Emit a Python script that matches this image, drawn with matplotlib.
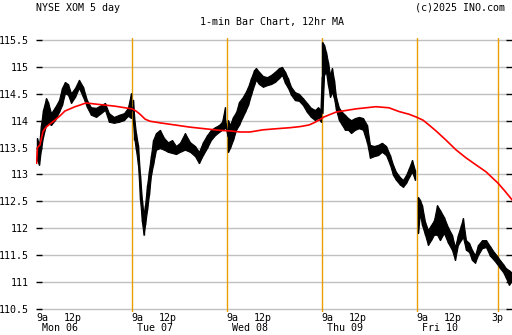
import numpy as np
import matplotlib.pyplot as plt

# 5 trading days, clock hours of the samples, bar highs and lows
days = ['Mon 06', 'Tue 07', 'Wed 08', 'Thu 09', 'Fri 10']

mon_t = [9.48, 9.62, 9.75, 9.89, 10.10, 10.23, 10.44, 10.71, 10.98, 11.19, 11.39, 11.60, 11.81, 12.08,
         12.35, 12.63, 12.90, 13.17, 13.52, 13.86, 14.13, 14.40, 14.74, 15.09, 15.43, 15.70, 15.91]
mon_hi = [113.68, 113.55, 113.92, 114.20, 114.42, 114.35, 114.14, 114.25, 114.38, 114.61, 114.72, 114.68, 114.51, 114.61,
          114.76, 114.63, 114.38, 114.25, 114.24, 114.29, 114.33, 114.14, 114.07, 114.11, 114.14, 114.24, 114.51]
mon_lo = [113.27, 113.18, 113.46, 113.70, 113.92, 113.96, 113.92, 114.01, 114.16, 114.29, 114.51, 114.48, 114.33, 114.44,
          114.61, 114.44, 114.25, 114.11, 114.07, 114.14, 114.20, 113.98, 113.96, 113.98, 114.01, 114.09, 114.05]

tue_t = [9.55, 9.65, 9.75, 9.89, 10.03, 10.16, 10.27, 10.37, 10.51, 10.64, 10.78, 10.92, 11.12, 11.39, 11.67,
         11.94, 12.22, 12.49, 12.76, 13.10, 13.45, 13.79, 14.06, 14.33, 14.61, 14.88, 15.16, 15.43, 15.64, 15.84]
tue_hi = [114.39, 114.01, 113.77, 113.55, 112.99, 112.53, 112.25, 112.43, 112.80, 113.08, 113.36, 113.64, 113.77, 113.83, 113.68,
          113.60, 113.64, 113.53, 113.59, 113.77, 113.60, 113.53, 113.42, 113.60, 113.73, 113.83, 113.88, 113.92, 113.98, 114.25]
tue_lo = [113.98, 113.64, 113.46, 113.18, 112.53, 112.12, 111.88, 112.06, 112.34, 112.62, 112.99, 113.18, 113.46, 113.49, 113.46,
          113.42, 113.40, 113.38, 113.42, 113.46, 113.42, 113.34, 113.21, 113.36, 113.49, 113.64, 113.73, 113.79, 113.83, 113.86]

wed_t = [9.55, 9.68, 9.89, 10.10, 10.30, 10.51, 10.71, 10.92, 11.12, 11.33, 11.46, 11.67, 11.94, 12.22, 12.49,
         12.76, 13.04, 13.24, 13.45, 13.65, 13.86, 14.13, 14.40, 14.67, 14.95, 15.22, 15.50, 15.70, 15.91]
wed_hi = [114.01, 113.92, 114.07, 114.16, 114.35, 114.42, 114.51, 114.63, 114.79, 114.94, 114.98, 114.91, 114.83, 114.81, 114.85,
          114.91, 114.98, 115.00, 114.91, 114.79, 114.63, 114.53, 114.50, 114.42, 114.33, 114.24, 114.20, 114.25, 114.20]
wed_lo = [113.42, 113.49, 113.64, 113.83, 113.92, 114.05, 114.16, 114.29, 114.48, 114.66, 114.76, 114.68, 114.63, 114.66, 114.68,
          114.72, 114.79, 114.85, 114.70, 114.61, 114.48, 114.38, 114.37, 114.29, 114.16, 114.07, 114.01, 114.05, 113.98]

thu_t = [9.51, 9.62, 9.75, 9.89, 10.03, 10.16, 10.30, 10.44, 10.64, 10.85, 11.05, 11.26, 11.47, 11.74, 12.01, 12.28,
         12.56, 12.76, 13.04, 13.31, 13.58, 13.86, 14.13, 14.34, 14.54, 14.82, 15.02, 15.23, 15.43, 15.64, 15.84]
thu_hi = [115.46, 115.41, 115.28, 115.09, 114.85, 114.98, 114.76, 114.44, 114.24, 114.16, 114.11, 114.05, 114.01, 114.05, 114.07, 114.05,
          113.92, 113.55, 113.53, 113.55, 113.59, 113.53, 113.36, 113.18, 113.05, 112.95, 112.90, 112.99, 113.12, 113.27, 113.08]
thu_lo = [114.14, 114.85, 114.91, 114.66, 114.44, 114.53, 114.42, 114.20, 114.01, 113.92, 113.83, 113.83, 113.77, 113.83, 113.86, 113.83,
          113.59, 113.31, 113.34, 113.36, 113.42, 113.36, 113.18, 112.99, 112.90, 112.81, 112.77, 112.84, 112.95, 113.05, 112.90]

fri_t = [9.55, 9.68, 9.82, 10.03, 10.23, 10.44, 10.64, 10.85, 11.05, 11.32, 11.60, 11.87, 12.08, 12.28, 12.49, 12.62,
         12.83, 13.04, 13.24, 13.45, 13.65, 13.93, 14.20, 14.47, 14.74, 14.95, 15.15, 15.36, 15.56, 15.77, 15.91]
fri_hi = [112.58, 112.53, 112.43, 112.12, 111.97, 112.06, 112.15, 112.43, 112.34, 112.21, 112.02, 111.88, 111.65, 111.88, 112.06, 112.19,
          111.78, 111.73, 111.60, 111.50, 111.69, 111.78, 111.78, 111.67, 111.56, 111.49, 111.41, 111.34, 111.26, 111.22, 111.19]
fri_lo = [111.91, 112.28, 112.06, 111.88, 111.69, 111.78, 111.88, 111.88, 111.78, 111.91, 111.73, 111.60, 111.41, 111.69, 111.78, 111.84,
          111.60, 111.56, 111.41, 111.36, 111.50, 111.63, 111.65, 111.49, 111.41, 111.34, 111.26, 111.19, 111.08, 110.95, 111.00]

# 12hr moving average, per day
ma_t = [[9.45, 9.51, 9.68, 9.89, 10.10, 10.37, 10.71, 11.05, 11.39, 11.74, 12.08, 12.42, 12.83, 13.45, 14.13, 14.81, 15.50, 15.98],
        [9.75, 10.03, 10.37, 10.71, 11.39, 12.42, 13.45, 14.13, 14.81, 15.50],
        [9.68, 10.37, 11.05, 11.94, 12.83, 13.79, 14.47, 15.09, 15.50, 15.77],
        [9.62, 10.44, 11.12, 11.81, 13.17, 14.06, 14.75, 15.43, 15.91],
        [9.89, 10.30, 10.78, 11.46, 12.14, 12.83, 13.51, 14.20, 15.02, 15.50, 15.98]]
ma_v = [[113.21, 113.50, 113.55, 113.80, 113.88, 113.94, 114.01, 114.09, 114.18, 114.22, 114.26, 114.29, 114.33, 114.31,
         114.29, 114.27, 114.24, 114.22],
        [114.18, 114.12, 114.03, 113.99, 113.96, 113.92, 113.88, 113.86, 113.84, 113.82],
        [113.81, 113.79, 113.79, 113.83, 113.85, 113.87, 113.89, 113.92, 113.97, 114.01],
        [114.07, 114.16, 114.19, 114.22, 114.26, 114.24, 114.17, 114.12, 114.07],
        [114.01, 113.92, 113.81, 113.64, 113.46, 113.31, 113.18, 113.05, 112.84, 112.69, 112.53]]

yticks = [110.5, 111, 111.5, 112, 112.5, 113, 113.5, 114, 114.5, 115, 115.5]

bars_t = [mon_t, tue_t, wed_t, thu_t, fri_t]
bars_hi = [mon_hi, tue_hi, wed_hi, thu_hi, fri_hi]
bars_lo = [mon_lo, tue_lo, wed_lo, thu_lo, fri_lo]


def xpos(day, t):
    # one trading session (9:30 - 16:00) per unit
    return day + (np.asarray(t) - 9.5) / 6.5


mono = 'DejaVu Sans Mono'
fs = 7.2

fig = plt.figure(figsize=(5.12, 3.35), dpi=100)
ax = fig.add_axes([36 / 512, 1 - 312 / 335, 476 / 512, 274 / 335])
ax.set_xlim((36 - 37.3) / 95, (512 - 37.3) / 95)
ax.set_ylim(110.444, 115.537)
for s in ax.spines.values():
    s.set_visible(False)

# gray grid lines
for y in yticks:
    ax.axhline(y, xmin=4 / 476, xmax=471 / 476, color='#c0c0c0', lw=1, zorder=0)

ax.set_yticks(yticks)
ax.set_yticklabels(['%g' % v for v in yticks], family=mono, fontsize=fs)
ax.tick_params(axis='y', direction='in', length=4, width=1, left=True, right=True, pad=5)
ax.set_xticks([])

# orange session markers
orange = '#e8a000'
for d in range(1, 5):
    ax.axvline(d, color=orange, lw=1, zorder=1)
ax.axvline(xpos(4, 15.0), color=orange, lw=1, zorder=1)

# price bars
for d in range(5):
    x = xpos(d, bars_t[d])
    ax.fill_between(x, bars_lo[d], bars_hi[d], color='black', lw=0.8, zorder=2)
    ax.vlines(x, bars_lo[d], bars_hi[d], color='black', lw=1.0, zorder=2)
    # link last bar of the day to the next open
    if d < 4 and d != 3:
        ax.plot([x[-1], xpos(d + 1, bars_t[d + 1][0])],
                [(bars_hi[d][-1] + bars_lo[d][-1]) / 2, (bars_hi[d + 1][0] + bars_lo[d + 1][0]) / 2],
                color='black', lw=1.2, zorder=2)

# moving average
ma_x = np.concatenate([xpos(d, ma_t[d]) for d in range(5)])
ma_y = np.concatenate(ma_v)
ax.plot(ma_x, ma_y, color='red', lw=1.2, zorder=3)

# x labels (two rows)
xt = ax.get_xaxis_transform()
for d in range(5):
    ax.text(d - 0.01, -0.022, '9a', transform=xt, family=mono, fontsize=fs, ha='left', va='center')
    ax.text(d + 0.275, -0.022, '12p', transform=xt, family=mono, fontsize=fs, ha='left', va='center')
    ax.text(d + 0.046, -0.058, days[d], transform=xt, family=mono, fontsize=fs, ha='left', va='center')
ax.text(xpos(4, 15.0), -0.022, '3p', transform=xt, family=mono, fontsize=fs, ha='center', va='center')

# header
fig.text(36 / 512, 1 - 8 / 335, 'NYSE XOM 5 day', family=mono, fontsize=fs, ha='left', va='center')
fig.text(505 / 512, 1 - 8 / 335, '(c)2025 INO.com', family=mono, fontsize=fs, ha='right', va='center')
fig.text(272 / 512, 1 - 21.5 / 335, '1-min Bar Chart, 12hr MA', family=mono, fontsize=fs, ha='center', va='center')

fig.savefig('out.png', dpi=100, facecolor='white')
